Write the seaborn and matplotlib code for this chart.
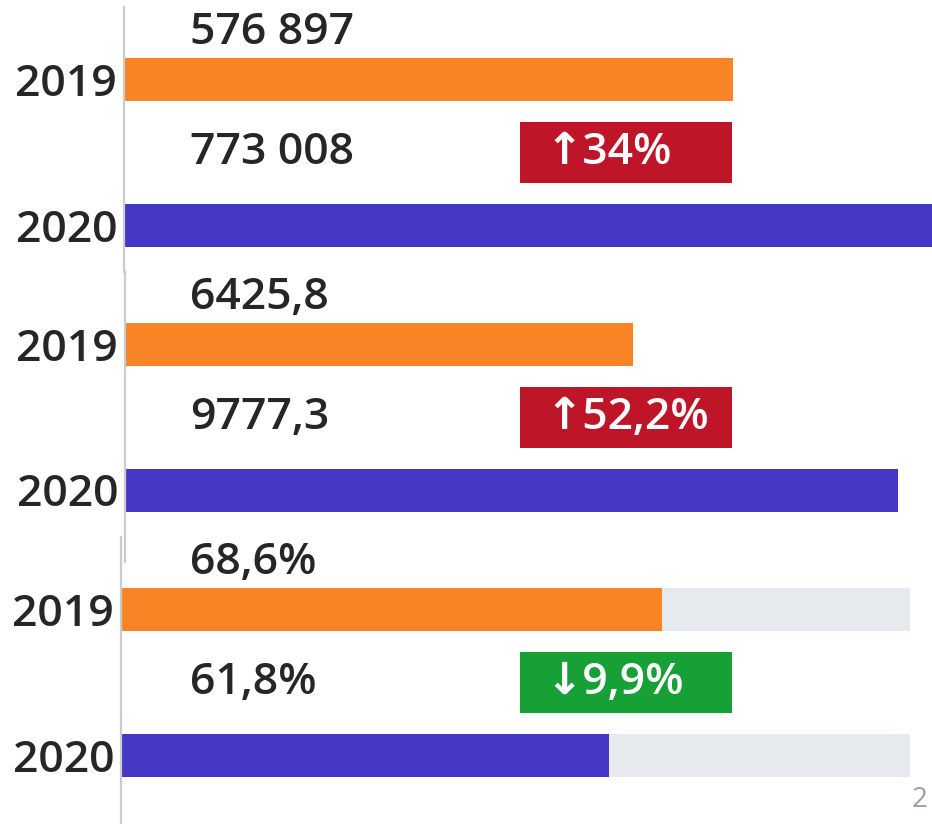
import matplotlib
matplotlib.use("Agg")
import matplotlib.pyplot as plt
import matplotlib.transforms as mtransforms
from matplotlib.patches import Rectangle
import seaborn as sns
import pandas as pd

# ---- data ----
years = ["2019", "2020"]
values_1 = [576897, 773008]
values_2 = [6425.8, 9777.3]
values_3 = [68.6, 61.8]
labels_1 = ["576 897", "773 008"]
labels_2 = ["6425,8", "9777,3"]
labels_3 = ["68,6%", "61,8%"]
changes = ["↑34%", "↑52,2%", "↓9,9%"]
change_colors = ["#BE1529", "#BE1529", "#16A035"]
track_3 = [100, 100]

ORANGE = "#F98425"
BLUE = "#4638C7"
TRACK = "#E6EAEE"
AXIS = "#C8CCD1"
TEXT = "#262626"

sns.set_theme(style="white")
plt.rcParams["font.family"] = ["Open Sans", "DejaVu Sans"]

W, H = 932, 824
fig = plt.figure(figsize=(W / 100, H / 100), dpi=100)

def fig_rect(x0, y0, x1, y1):
    return [x0 / W, 1 - y1 / H, (x1 - x0) / W, (y1 - y0) / H]

SPACING = 145.5
BAR_W = 43 / SPACING

panels = [
    dict(left=124, top=7, bottom=272, c0=79.5, vals=values_1, labs=labels_1, xmax=765000, track=None),
    dict(left=125, top=272, bottom=562, c0=344.5, vals=values_2, labs=labels_2, xmax=10207, track=None),
    dict(left=121, top=537, bottom=824, c0=609.5, vals=values_3, labs=labels_3, xmax=102.8, track=track_3),
]

for i, p in enumerate(panels):
    ax = fig.add_axes(fig_rect(p["left"], p["top"], W, p["bottom"]))
    ax.patch.set_alpha(0)
    if p["track"] is not None:
        sns.barplot(x=p["track"], y=years, color=TRACK, orient="h",
                    width=BAR_W, ax=ax, saturation=1, linewidth=0)
    df = pd.DataFrame({"year": years, "value": p["vals"]})
    sns.barplot(data=df, x="value", y="year", hue="year",
                palette=[ORANGE, BLUE], orient="h", width=BAR_W,
                ax=ax, legend=False, saturation=1, linewidth=0)
    ytop = -(p["c0"] - p["top"]) / SPACING
    ybot = 1 + (p["bottom"] - (p["c0"] + SPACING)) / SPACING
    ax.set_ylim(ybot, ytop)
    ax.set_xlim(0, p["xmax"])
    ax.set_xlabel("")
    ax.set_ylabel("")
    ax.set_xticks([])
    for s in ["top", "right", "bottom"]:
        ax.spines[s].set_visible(False)
    ax.spines["left"].set_color(AXIS)
    ax.spines["left"].set_linewidth(1.6)
    ax.tick_params(axis="y", length=0, pad=5)
    for t in ax.get_yticklabels():
        t.set_fontsize(32)
        t.set_fontweight("semibold")
        t.set_color(TEXT)

    trans = mtransforms.blended_transform_factory(fig.transFigure, ax.transData)
    ax.text(190 / W, -0.32, p["labs"][0], transform=trans, fontsize=32,
            fontweight="semibold", color=TEXT, va="center", ha="left")
    ax.text(190 / W, 0.5, p["labs"][1], transform=trans, fontsize=32,
            fontweight="semibold", color=TEXT, va="center", ha="left")
    bh = 61 / SPACING
    ax.add_patch(Rectangle((520 / W, 0.5 - bh / 2), 212 / W, bh,
                           transform=trans, facecolor=change_colors[i],
                           edgecolor="none", clip_on=False, zorder=3))
    ax.text(545 / W, 0.5, changes[i], transform=trans, fontsize=32,
            fontweight="semibold", color="white", va="center", ha="left",
            zorder=4, family=["Open Sans", "DejaVu Sans"])

fig.text(920 / W, 1 - 800 / H, "2", fontsize=20, color="#9AA0A6",
         ha="center", va="center")

fig.savefig("out.png", dpi=100)
